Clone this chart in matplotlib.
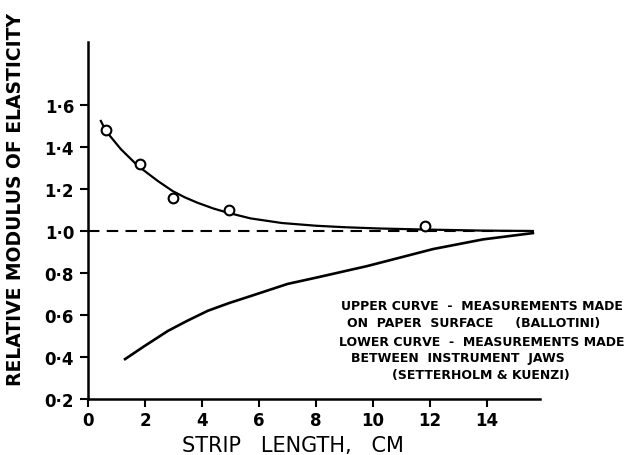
import matplotlib
matplotlib.use("Agg")
import matplotlib.pyplot as plt

# measured points (Ballotini)
pts_x = [0.63, 1.82, 2.97, 4.93, 11.82]
pts_y = [1.48, 1.32, 1.157, 1.10, 1.024]

# upper curve - paper surface
up_x = [0.45, 0.63, 1.15, 1.75, 2.45, 2.97, 3.4, 3.85, 4.4, 4.93, 5.7, 6.8, 8.0, 9.0, 10.2, 11.8, 13.8, 15.6]
up_y = [1.524, 1.476, 1.39, 1.31, 1.238, 1.19, 1.16, 1.134, 1.107, 1.086, 1.06, 1.038, 1.025, 1.018, 1.012, 1.007, 1.002, 1.0]

# lower curve - between jaws (Setterholm & Kuenzi)
lo_x = [1.30, 1.98, 2.80, 3.46, 4.20, 4.95, 5.70, 7.0, 8.07, 9.79, 12.1, 13.85, 15.6]
lo_y = [0.39, 0.452, 0.524, 0.571, 0.62, 0.657, 0.69, 0.748, 0.78, 0.833, 0.914, 0.96, 0.99]

ref_x = [0.0, 15.6]
ref_y = [1.0, 1.0]

xticks = [0, 2, 4, 6, 8, 10, 12, 14]
xticklabels = ['0', '2', '4', '6', '8', '10', '12', '14']
yticks = [0.2, 0.4, 0.6, 0.8, 1.0, 1.2, 1.4, 1.6]
yticklabels = ['0·2', '0·4', '0·6', '0·8', '1·0', '1·2', '1·4', '1·6']

notes = [
    ("UPPER CURVE  -  MEASUREMENTS MADE", 341, 307),
    ("ON  PAPER  SURFACE     (BALLOTINI)", 347, 323),
    ("LOWER CURVE  -  MEASUREMENTS MADE", 339, 343),
    ("BETWEEN  INSTRUMENT  JAWS", 351, 359),
    ("(SETTERHOLM & KUENZI)", 392, 376),
]

W, H = 627, 456
fig = plt.figure(figsize=(W / 100, H / 100), dpi=100)
ax = fig.add_axes([88 / W, 1 - 400 / H, (540 - 88) / W, (400 - 43) / H])

ax.plot(up_x, up_y, color='black', lw=1.6)
ax.plot(lo_x, lo_y, color='black', lw=1.9)
ax.plot(ref_x, ref_y, color='black', lw=1.5, dashes=(5.5, 3.5))
ax.plot(pts_x, pts_y, 'o', mfc='white', mec='black', ms=7, mew=1.5)

ax.set_xlim(0, 15.85)
ax.set_ylim(0.2, 1.9)
ax.set_xticks(xticks)
ax.set_xticklabels(xticklabels, fontsize=12, fontweight='bold')
ax.set_yticks(yticks)
ax.set_yticklabels(yticklabels, fontsize=12, fontweight='bold')
ax.tick_params(direction='out', length=6, width=1.5, pad=4)
ax.tick_params(axis='x', pad=3)

for s in ['top', 'right']:
    ax.spines[s].set_visible(False)
for s in ['left', 'bottom']:
    ax.spines[s].set_linewidth(1.8)

fig.text(16 / W, 1 - 200 / H, 'RELATIVE MODULUS OF ELASTICITY', rotation=90,
         ha='center', va='center', fontsize=13.5, fontweight='bold')
fig.text(293 / W, 1 - 446 / H, 'STRIP   LENGTH,   CM', ha='center', va='center',
         fontsize=15)

for txt, px, py in notes:
    fig.text(px / W, 1 - py / H, txt, ha='left', va='center', fontsize=9,
             fontweight='bold')

fig.savefig('out.png', dpi=100, facecolor='white')
